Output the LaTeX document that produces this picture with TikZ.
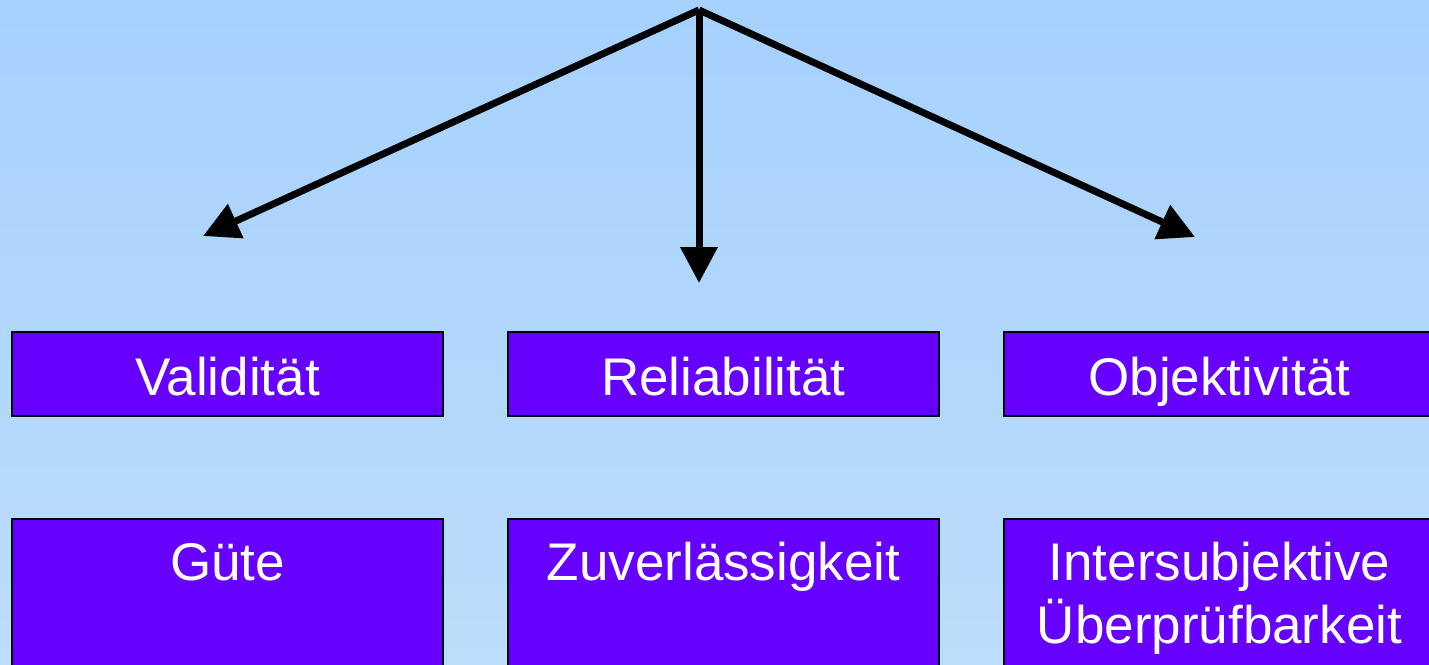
\documentclass[tikz,border=0pt]{standalone}
\usepackage{fontspec}
\setmainfont{Liberation Sans}
\usetikzlibrary{arrows.meta}
\definecolor{bgtop}{RGB}{166,209,253}
\definecolor{bgbot}{RGB}{188,221,251}
\definecolor{boxfill}{RGB}{102,0,255}
\begin{document}
\begin{tikzpicture}[x=1pt,y=-1pt,
  box/.style={draw=black,line width=2.5pt,fill=boxfill,minimum width=431pt,minimum height=84pt,inner sep=0pt},
  tallbox/.style={box,minimum height=170pt},
  lbl/.style={text=white,font=\fontsize{53}{63}\selectfont,align=center,inner sep=0pt},
  arr/.style={line width=7pt,-{Triangle[length=36pt,width=36pt]}}]
\shade[top color=bgtop,bottom color=bgbot] (0,0) rectangle (1429,664);
\useasboundingbox (0,0) rectangle (1429,664);
% top row
\node[box] (b1) at (227.5,374) {};
\node[box] (b2) at (723.5,374) {};
\node[box] (b3) at (1219.5,374) {};
\node[lbl,anchor=base] (t1) at (227.5,395) {Validität};
\node[lbl,anchor=base] (t2) at (723.5,395) {Reliabilität};
\node[lbl,anchor=base] (t3) at (1219.5,395) {Objektivität};
% bottom row
\node[tallbox] (g1) at (227.5,604) {};
\node[tallbox] (g2) at (723.5,604) {};
\node[tallbox] (g3) at (1219.5,604) {};
\node[lbl,anchor=base] (u1) at (227.5,580) {Güte};
\node[lbl,anchor=base] (u2) at (723.5,580) {Zuverlässigkeit};
\node[lbl,anchor=base] (u3) at (1219.5,643) {Intersubjektive\\Überprüfbarkeit};
% arrows
\coordinate (apex) at (699,10);
\coordinate (tipL) at (203,236);
\coordinate (tipM) at (699,283);
\coordinate (tipR) at (1195,237);
\draw[arr] (apex) -- (tipL);
\draw[arr] (apex) -- (tipM);
\draw[arr] (apex) -- (tipR);
\end{tikzpicture}
\end{document}
